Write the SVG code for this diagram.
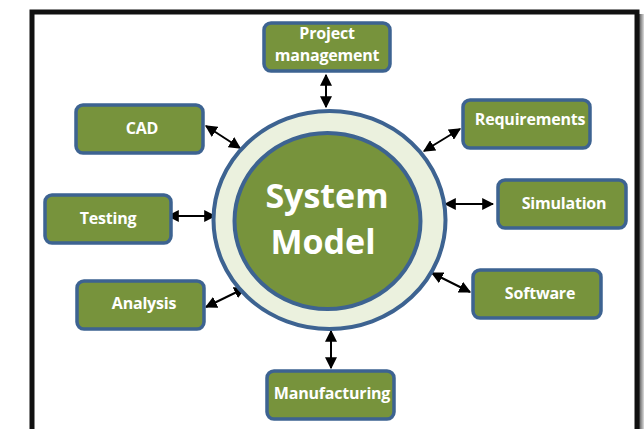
<svg xmlns="http://www.w3.org/2000/svg" width="644" height="429" viewBox="0 0 644 429">
<defs>
<style>
.box{fill:#77933c;stroke:#3d6391;stroke-width:3.5}
.lbl{font-family:"Open Sans","Liberation Sans",sans-serif;font-weight:bold;font-size:16px;fill:#fff;text-anchor:middle;letter-spacing:-0.2px}
.big{font-family:"Open Sans","Liberation Sans",sans-serif;font-weight:bold;font-size:34px;fill:#fff;text-anchor:middle}
.con{stroke:#000;stroke-width:2;fill:none;marker-start:url(#ah);marker-end:url(#ah)}
</style>
<marker id="ah" viewBox="0 0 10 10" refX="9" refY="5" markerWidth="6" markerHeight="6" orient="auto-start-reverse" markerUnits="strokeWidth">
<path d="M0,0 L10,5 L0,10 Z" fill="#000"/>
</marker>
<linearGradient id="sh" x1="0" x2="1" y1="0" y2="0">
<stop offset="0" stop-color="#555"/>
<stop offset="1" stop-color="#ddd"/>
</linearGradient>
</defs>
<rect x="0" y="0" width="644" height="429" fill="#fff"/>
<rect x="639" y="14" width="5" height="415" fill="url(#sh)"/>
<rect x="32" y="12" width="605" height="430" fill="#fff" stroke="#111" stroke-width="5"/>

<g id="connectors">
<line class="con" x1="326" y1="75" x2="326" y2="107"/>
<line class="con" x1="206" y1="126" x2="240" y2="148"/>
<line class="con" x1="460" y1="129" x2="424" y2="151"/>
<line class="con" x1="445" y1="204" x2="493" y2="204"/>
<line class="con" x1="432" y1="273" x2="470" y2="292"/>
<line class="con" x1="168" y1="216" x2="215" y2="216"/>
<line class="con" x1="206" y1="307" x2="245" y2="288"/>
<line class="con" x1="331" y1="331" x2="331" y2="368"/>
</g>

<g id="system-model">
<ellipse cx="329.5" cy="220" rx="116" ry="109" fill="#ebf1de" stroke="#3d6391" stroke-width="4"/>
<ellipse cx="327.5" cy="221" rx="93" ry="88" fill="#77933c" stroke="#3d6391" stroke-width="4"/>
<text class="big" x="327" y="208">System</text>
<text class="big" x="323" y="254">Model</text>
</g>

<g id="project-management">
<rect class="box" x="264" y="23" width="126" height="48" rx="7"/>
<text class="lbl" x="327" y="39">Project</text>
<text class="lbl" x="327" y="61">management</text>
</g>
<g id="cad">
<rect class="box" x="76" y="105" width="127" height="48" rx="7"/>
<text class="lbl" x="142" y="134">CAD</text>
</g>
<g id="requirements">
<rect class="box" x="463" y="100" width="127" height="48" rx="7"/>
<text class="lbl" x="530" y="125">Requirements</text>
</g>
<g id="simulation">
<rect class="box" x="498" y="180" width="128" height="48" rx="7"/>
<text class="lbl" x="564" y="209">Simulation</text>
</g>
<g id="software">
<rect class="box" x="473" y="270" width="128" height="48" rx="7"/>
<text class="lbl" x="540" y="299">Software</text>
</g>
<g id="testing">
<rect class="box" x="45" y="195" width="126" height="48" rx="7"/>
<text class="lbl" x="108" y="224">Testing</text>
</g>
<g id="analysis">
<rect class="box" x="77" y="281" width="127" height="48" rx="7"/>
<text class="lbl" x="144" y="309">Analysis</text>
</g>
<g id="manufacturing">
<rect class="box" x="267" y="371" width="127" height="48" rx="7"/>
<text class="lbl" x="332" y="399">Manufacturing</text>
</g>
</svg>
